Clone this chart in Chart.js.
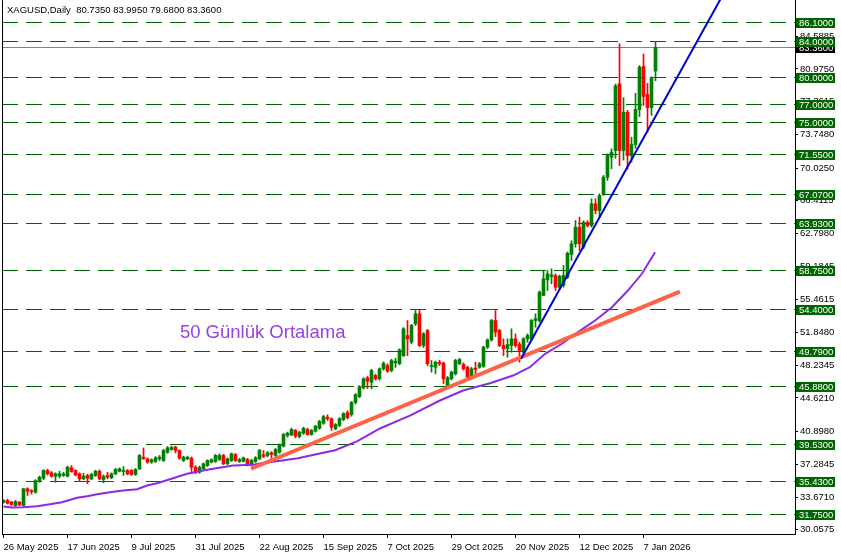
<!DOCTYPE html>
<html>
<head>
<meta charset="utf-8">
<script src="https://cdn.jsdelivr.net/npm/chart.js@4.4.1/dist/chart.umd.min.js"></script>
<style>
html, body { margin: 0; padding: 0; background: #fff; overflow: hidden; }
canvas { display: block; }
</style>
</head>
<body>
<canvas id="chart" width="841" height="555"></canvas>
<script>
// XAGUSD daily candles (one value per trading day from 26 May 2025)
const opens = [
  33.11, 33.29, 33.11, 32.74, 33.11, 32.74, 34.59, 34.40, 34.21, 35.43,
  35.76, 36.61, 36.36, 35.98, 35.98, 36.06, 35.98, 36.91, 36.61, 36.24,
  35.69, 36.06, 35.69, 36.06, 36.53, 35.62, 36.06, 35.80, 36.24, 36.53,
  36.50, 36.61, 36.61, 36.17, 36.80, 38.08, 37.90, 37.53, 37.60, 37.90,
  37.71, 38.63, 38.93, 39.19, 38.82, 37.71, 37.90, 37.97, 36.97, 36.42,
  36.79, 37.16, 37.53, 37.60, 37.82, 38.27, 37.35, 37.71, 38.38, 37.60,
  37.64, 37.82, 37.24, 37.60, 37.90, 38.34, 38.27, 38.56, 38.27, 38.63,
  39.30, 40.48, 40.55, 41.03, 40.37, 40.73, 41.14, 40.59, 40.95, 41.28,
  41.83, 42.50, 42.31, 41.21, 41.58, 42.24, 43.00, 42.79, 44.12, 44.78,
  45.74, 46.85, 46.35, 47.10, 46.74, 47.84, 48.21, 47.66, 48.51, 48.40,
  49.30, 51.52, 50.78, 52.81, 53.92, 50.42, 52.07, 48.10, 48.02, 48.57,
  48.46, 45.89, 46.74, 47.29, 48.40, 48.32, 48.02, 46.92, 47.91, 48.02,
  48.10, 50.23, 51.04, 53.18, 52.08, 50.42, 50.06, 50.42, 51.15, 50.53,
  49.68, 51.15, 51.15, 53.18, 53.18, 55.94, 57.68, 58.05, 58.15, 56.86,
  57.05, 57.96, 60.47, 61.65, 63.49, 61.28, 64.04, 63.67, 66.07, 65.33,
  67.17, 69.01, 71.22, 71.96, 79.32, 71.96, 76.19, 71.41, 72.63, 76.49,
  81.24, 78.15, 76.71, 80.735
];
const highs = [
  33.40, 33.45, 33.20, 33.30, 33.20, 34.65, 34.70, 34.50, 35.60, 36.00,
  36.70, 36.75, 36.50, 36.36, 36.53, 36.42, 37.10, 37.16, 36.70, 36.35,
  36.31, 36.20, 36.30, 36.65, 36.68, 36.13, 36.42, 36.35, 36.85, 36.90,
  37.05, 36.72, 36.72, 36.83, 38.38, 39.10, 38.00, 37.90, 38.15, 38.27,
  38.95, 39.25, 39.30, 39.30, 38.90, 38.20, 38.20, 38.10, 37.16, 37.10,
  37.45, 37.80, 37.90, 38.38, 38.45, 38.40, 38.00, 38.55, 38.50, 37.95,
  38.10, 37.95, 37.85, 38.15, 38.95, 38.82, 38.70, 38.70, 39.05, 39.55,
  40.70, 40.85, 41.30, 41.15, 40.95, 41.40, 41.30, 41.15, 41.60, 42.15,
  42.70, 42.76, 42.45, 41.80, 42.45, 43.00, 43.20, 44.25, 45.10, 46.00,
  46.85, 47.00, 47.80, 47.25, 47.95, 48.60, 48.40, 48.90, 49.00, 50.05,
  52.40, 53.18, 52.75, 54.28, 54.30, 51.85, 52.20, 48.76, 48.70, 48.80,
  48.60, 47.00, 47.60, 48.90, 49.00, 48.50, 48.15, 48.00, 48.57, 48.55,
  50.35, 51.15, 53.30, 54.28, 52.20, 51.15, 51.15, 52.26, 51.70, 50.78,
  51.30, 51.70, 53.30, 53.92, 56.45, 58.70, 58.70, 58.89, 58.33, 58.20,
  59.26, 60.75, 62.00, 64.23, 64.60, 64.20, 64.20, 66.62, 66.62, 67.17,
  69.20, 71.59, 72.15, 79.30, 83.74, 77.80, 76.40, 73.43, 78.28, 81.35,
  82.62, 79.38, 80.10, 83.995
];
const lows = [
  33.00, 32.90, 32.75, 32.65, 32.70, 32.70, 33.85, 34.00, 34.10, 35.30,
  35.60, 36.10, 35.85, 35.32, 35.80, 35.95, 35.90, 36.42, 36.00, 35.39,
  35.58, 35.14, 35.60, 35.95, 35.58, 35.25, 35.69, 35.70, 36.15, 36.45,
  36.06, 36.13, 36.06, 36.06, 36.70, 37.85, 37.40, 37.40, 37.50, 37.71,
  37.60, 38.50, 38.85, 38.56, 37.85, 37.60, 37.80, 36.50, 36.24, 36.30,
  36.70, 37.05, 37.45, 37.50, 37.71, 37.25, 37.25, 37.60, 37.60, 37.50,
  37.55, 37.10, 37.10, 37.50, 37.80, 38.05, 38.10, 37.90, 38.15, 38.50,
  39.20, 40.30, 40.45, 40.20, 40.20, 40.60, 40.50, 40.50, 40.85, 41.15,
  41.70, 42.13, 41.03, 41.10, 41.45, 42.10, 42.30, 42.60, 43.95, 44.65,
  45.60, 45.66, 45.63, 46.60, 46.60, 47.70, 47.45, 47.50, 47.99, 48.30,
  49.20, 49.30, 50.60, 52.63, 50.30, 50.20, 48.20, 47.47, 47.29, 48.20,
  46.19, 45.75, 46.60, 47.15, 48.30, 47.70, 46.80, 46.80, 47.29, 47.90,
  48.00, 50.10, 50.90, 51.40, 50.30, 49.30, 49.12, 49.68, 50.23, 48.57,
  49.50, 50.78, 51.00, 52.44, 53.00, 55.94, 56.49, 57.23, 56.49, 56.70,
  56.86, 57.80, 59.80, 61.28, 60.91, 61.10, 63.50, 63.49, 64.97, 64.60,
  66.99, 68.65, 69.94, 71.10, 70.30, 70.90, 69.90, 70.67, 72.20, 75.70,
  76.93, 73.97, 75.84, 79.68
];
const closes = [
  33.29, 33.00, 32.85, 33.18, 32.82, 34.59, 34.32, 34.29, 35.50, 35.87,
  36.61, 36.25, 35.98, 36.24, 36.24, 36.24, 36.97, 36.50, 36.13, 35.69,
  35.98, 35.76, 36.17, 36.53, 35.69, 35.95, 35.87, 36.24, 36.72, 36.79,
  36.61, 36.24, 36.17, 36.72, 38.27, 37.90, 37.53, 37.79, 38.01, 38.08,
  38.82, 39.12, 39.15, 38.82, 37.97, 38.08, 38.08, 36.97, 36.50, 36.97,
  37.35, 37.71, 37.79, 38.27, 38.27, 37.35, 37.90, 38.45, 37.71, 37.82,
  38.01, 37.24, 37.71, 38.01, 38.82, 38.16, 38.56, 38.38, 38.93, 39.45,
  40.59, 40.73, 41.14, 40.40, 40.84, 41.28, 40.59, 41.03, 41.50, 42.02,
  42.57, 42.31, 41.39, 41.69, 42.35, 42.90, 42.46, 44.12, 44.99, 45.88,
  46.74, 46.47, 47.66, 46.74, 47.84, 48.46, 47.58, 48.76, 48.68, 49.94,
  52.26, 51.15, 52.63, 53.92, 50.42, 51.70, 48.40, 48.21, 48.57, 48.40,
  46.74, 46.85, 47.47, 48.76, 48.87, 47.84, 46.92, 47.84, 47.77, 48.40,
  50.23, 51.04, 53.18, 51.90, 50.42, 50.06, 50.53, 51.15, 50.42, 49.87,
  51.15, 51.52, 53.18, 53.37, 56.31, 57.78, 58.33, 58.23, 56.86, 58.07,
  58.15, 60.61, 61.65, 63.49, 61.65, 64.04, 63.67, 66.07, 65.33, 66.99,
  69.01, 71.41, 71.77, 79.10, 71.96, 76.19, 71.41, 72.63, 76.49, 81.16,
  77.93, 76.71, 79.91, 83.36
];

// date axis labels and the bar they sit on
const dateLabels = ['26 May 2025', '17 Jun 2025', '9 Jul 2025', '31 Jul 2025', '22 Aug 2025',
  '15 Sep 2025', '7 Oct 2025', '29 Oct 2025', '20 Nov 2025', '12 Dec 2025', '7 Jan 2026'];
const dateIdx = [0, 16, 32, 48, 64, 80, 96, 112, 128, 144, 160];

// price scale labels
const priceTicks = [30.0575, 33.671, 37.2845, 40.898, 44.621, 48.2345, 51.848, 55.4615,
  59.1845, 62.798, 66.4115, 70.025, 73.748, 77.3615, 80.975, 84.5885];

// horizontal support / resistance levels
const levels = [86.1, 84.0, 80.0, 77.0, 75.0, 71.55, 67.07, 63.93, 58.75, 54.4,
  49.79, 45.88, 39.53, 35.43, 31.75];

// 50 day moving average (bar index, value)
const maIdx = [0, 2.1, 4.9, 8.4, 11.6, 14.6, 18.4, 20.9, 23.4, 26.6, 29.9, 33.4, 35.9, 38.4,
  41.6, 45.9, 50.9, 57.4, 62.4, 65.4, 69.6, 73.6, 77.9, 82.9, 88.5, 94.1, 101.6, 109.1, 114.9,
  121.6, 127.4, 131.6, 135.4, 139.6, 143.6, 147.9, 152.1, 156.1, 159.6, 162.9];
const maVal = [32.63, 32.52, 32.55, 32.66, 32.89, 33.11, 33.59, 33.77, 33.99, 34.21, 34.40,
  34.54, 34.95, 35.21, 35.65, 36.24, 36.69, 37.16, 37.24, 37.46, 37.71, 37.97, 38.38, 38.85,
  39.85, 41.25, 42.68, 44.34, 45.45, 46.25, 47.10, 48.02, 49.50, 50.61, 51.89, 53.18, 54.65,
  56.49, 58.34, 60.72];

// trend lines
const supportIdx = [61.9, 169.1];
const supportVal = [36.8, 56.38];
const trendIdx = [129.4, 190];
const trendVal = [48.95, 97.25];

const header = 'XAGUSD,Daily  80.7350 83.9950 79.6800 83.3600';
const noteText = '50 Günlük Ortalama';

const UP = '#008000', DOWN = '#ff0000', LEVEL = '#006400';
const FONT = '"Liberation Sans", Arial, sans-serif';

Chart.defaults.font.family = FONT;
Chart.defaults.font.size = 9.5;
Chart.defaults.color = '#000';

const idx = closes.map((c, i) => i);
const candleColor = idx.map(i => closes[i] >= opens[i] ? UP : DOWN);

const overlay = {
  id: 'overlay',
  beforeDatasetsDraw(chart) {
    const { ctx, chartArea: a, scales: { y } } = chart;
    ctx.save();
    ctx.lineWidth = 1;
    ctx.strokeStyle = LEVEL;
    ctx.setLineDash([16, 8]);
    levels.forEach(lv => {
      const py = Math.floor(y.getPixelForValue(lv)) + 0.5;
      ctx.beginPath(); ctx.moveTo(a.left, py); ctx.lineTo(a.right, py); ctx.stroke();
    });
    ctx.setLineDash([]);
    ctx.strokeStyle = '#778899';
    const cy = Math.floor(y.getPixelForValue(closes[closes.length - 1])) + 0.5;
    ctx.beginPath(); ctx.moveTo(a.left, cy); ctx.lineTo(a.right, cy); ctx.stroke();
    ctx.restore();
  },
  afterDraw(chart) {
    const { ctx, chartArea: a, scales: { x, y } } = chart;
    ctx.save();
    // left edge of the frame (right and bottom come from the axes)
    ctx.strokeStyle = '#000';
    ctx.lineWidth = 1;
    ctx.beginPath(); ctx.moveTo(a.left + 0.5, a.top); ctx.lineTo(a.left + 0.5, a.bottom); ctx.stroke();

    ctx.font = '9.5px ' + FONT;
    ctx.textBaseline = 'middle';
    ctx.textAlign = 'left';
    // last price tag
    const last = closes[closes.length - 1];
    let py = Math.floor(y.getPixelForValue(last));
    ctx.fillStyle = '#000';
    ctx.fillRect(a.right + 1, py - 4, 39, 10);
    ctx.fillStyle = '#fff';
    ctx.fillText(last.toFixed(4), a.right + 4, py + 1);
    // level tags
    levels.forEach(lv => {
      py = Math.floor(y.getPixelForValue(lv));
      ctx.fillStyle = LEVEL;
      ctx.fillRect(a.right + 1, py - 4, 39, 10);
      ctx.fillStyle = '#fff';
      ctx.fillText(lv.toFixed(4), a.right + 4, py + 1);
    });

    // header
    ctx.fillStyle = '#000';
    ctx.fillText(header, 7, 10);

    // note on the moving average
    ctx.font = '18.5px ' + FONT;
    ctx.fillStyle = '#9a3fe0';
    ctx.fillText(noteText, x.getPixelForValue(44.1), y.getPixelForValue(51.8));
    ctx.restore();
  }
};

new Chart(document.getElementById('chart'), {
  data: {
    datasets: [
      {
        type: 'line', label: 'trend', order: 1,
        data: trendIdx.map((v, k) => ({ x: v, y: trendVal[k] })),
        borderColor: '#0000cd', borderWidth: 2, pointRadius: 0
      },
      {
        type: 'line', label: 'support', order: 2,
        data: supportIdx.map((v, k) => ({ x: v, y: supportVal[k] })),
        borderColor: '#ff6347', borderWidth: 4, pointRadius: 0
      },
      {
        type: 'line', label: 'MA50', order: 3,
        data: maIdx.map((v, k) => ({ x: v, y: maVal[k] })),
        borderColor: '#8a2be2', borderWidth: 2, pointRadius: 0, tension: 0
      },
      {
        type: 'bar', label: 'body', order: 4, grouped: false,
        data: idx.map(i => ({ x: i, y: [opens[i], closes[i]] })),
        backgroundColor: candleColor, barThickness: 3, minBarLength: 1
      },
      {
        type: 'bar', label: 'wick', order: 5, grouped: false,
        data: idx.map(i => ({ x: i, y: [lows[i], highs[i]] })),
        backgroundColor: candleColor, barThickness: 1
      }
    ]
  },
  options: {
    responsive: false,
    animation: false,
    devicePixelRatio: 1,
    layout: { padding: { left: 2, top: 0, right: 0, bottom: 0 } },
    plugins: { legend: { display: false }, tooltip: { enabled: false } },
    scales: {
      x: {
        type: 'linear', position: 'bottom', offset: false,
        min: -0.375, max: 197.875,
        afterFit: s => { s.height = 21; s.paddingLeft = 0; s.paddingRight = 0; },
        afterBuildTicks: s => { s.ticks = dateIdx.map(v => ({ value: v })); },
        ticks: {
          autoSkip: false, maxRotation: 0, align: 'start', padding: 4,
          callback: (v, k) => dateLabels[k]
        },
        grid: { drawOnChartArea: false, offset: false, tickLength: 4, color: '#000' },
        border: { color: '#000' }
      },
      y: {
        type: 'linear', position: 'right', beginAtZero: false,
        min: 29.594, max: 88.586,
        afterFit: s => { s.width = 46; s.paddingTop = 0; s.paddingBottom = 0; },
        afterBuildTicks: s => { s.ticks = priceTicks.map(v => ({ value: v })); },
        ticks: { autoSkip: false, padding: 2, callback: v => v.toFixed(4) },
        grid: { drawOnChartArea: false, tickLength: 3, color: '#000' },
        border: { color: '#000' }
      }
    }
  },
  plugins: [overlay]
});
</script>
</body>
</html>
